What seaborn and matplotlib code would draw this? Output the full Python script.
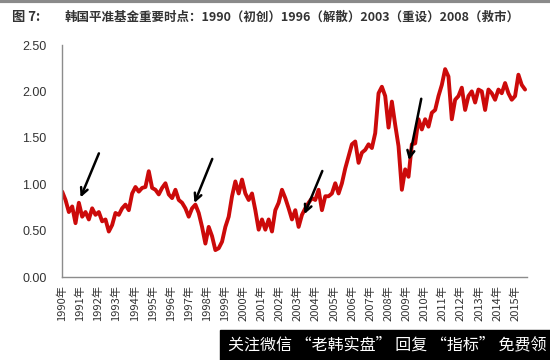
import numpy as np
import pandas as pd
import matplotlib.pyplot as plt
from matplotlib.lines import Line2D
from matplotlib.patches import Rectangle
import seaborn as sns

# index level, roughly every two months, Jan 1990 -> Jul 2015
values = [
    0.92, 0.83, 0.70, 0.76, 0.58, 0.80, 0.65, 0.70, 0.62, 0.74, 0.67, 0.70,
    0.60, 0.62, 0.49, 0.56, 0.69, 0.67, 0.74, 0.78, 0.72, 0.90, 0.97, 0.92,
    0.96, 0.97, 1.14, 0.96, 0.94, 0.89, 0.96, 1.01, 0.89, 0.85, 0.94, 0.83,
    0.80, 0.74, 0.65, 0.74, 0.78, 0.69, 0.54, 0.36, 0.54, 0.44, 0.29, 0.31,
    0.38, 0.54, 0.65, 0.87, 1.03, 0.90, 1.05, 0.90, 0.83, 0.90, 0.72, 0.51,
    0.62, 0.51,
    0.62, 0.49, 0.72, 0.80, 0.94, 0.85, 0.74, 0.62, 0.72, 0.54, 0.67, 0.74,
    0.80, 0.85, 0.83, 0.94, 0.72, 0.87, 0.87, 0.90, 1.01, 0.90, 1.01, 1.17,
    1.30, 1.43, 1.46, 1.23, 1.34, 1.37, 1.43, 1.39, 1.55, 1.98, 2.05, 1.95,
    1.61, 1.89, 1.64, 1.41, 0.94, 1.16, 1.08, 1.43, 1.44, 1.70, 1.59, 1.70,
    1.62, 1.77, 1.80, 1.95, 2.07, 2.24, 2.16, 1.70, 1.91, 1.95, 2.04, 1.80,
    1.95, 2.00, 1.88, 2.02, 2.00, 1.80, 2.02, 1.98, 1.91, 2.02, 1.98, 2.09,
    1.98, 1.91, 1.95, 2.18, 2.07, 2.02,
]
start_date = "1990-01-05"
end_date = "2015-07-20"
tick_years = list(range(1990, 2016))
y_ticks = [0.0, 0.5, 1.0, 1.5, 2.0, 2.5]

fig_label = "图 7:"
title = "韩国平准基金重要时点：1990（初创）1996（解散）2003（重设）2008（救市）"
watermark = "关注微信 “老韩实盘” 回复 “指标” 免费领"

# arrows: (tail date, tail value) -> (head date, head value)
arrows = [
    (("1992-02-05", 1.36), ("1990-12-20", 0.83)),
    (("1998-05-08", 1.30), ("1997-04-01", 0.77)),
    (("2004-06-03", 1.17), ("2003-04-27", 0.65)),
    (("2009-11-07", 1.95), ("2009-02-10", 1.23)),
]

df = pd.DataFrame({
    "date": pd.date_range(start_date, end_date, periods=len(values)),
    "value": values,
})

sns.set_style("white")
plt.rcParams["font.family"] = ["Liberation Sans", "Noto Sans CJK SC", "DejaVu Sans"]
cjk = ["Noto Sans CJK SC", "DejaVu Sans"]

fig = plt.figure(figsize=(5.5, 3.6), dpi=100)
ax = fig.add_axes([62 / 550, 83 / 360, 465 / 550, 232 / 360])

sns.lineplot(data=df, x="date", y="value", ax=ax, color="#cc0a0a", linewidth=2.8)

for (t0, v0), (t1, v1) in arrows:
    ax.annotate("", xy=(pd.Timestamp(t1), v1), xytext=(pd.Timestamp(t0), v0),
                arrowprops=dict(arrowstyle="->,head_length=0.5,head_width=0.25",
                                color="black", lw=1.8))

ax.set_xlim(pd.Timestamp("1990-01-01"), pd.Timestamp("2015-08-28"))
ax.set_ylim(0, 2.5)
ax.set_yticks(y_ticks)
ax.set_yticklabels([f"{v:.2f}" for v in y_ticks])
ax.set_xticks([pd.Timestamp(f"{y}-01-01") for y in tick_years])
ax.set_xticklabels([f"{y}年" for y in tick_years], rotation=90, family=cjk)
ax.set_xlabel("")
ax.set_ylabel("")

for s in ["top", "right"]:
    ax.spines[s].set_visible(False)
for s in ["left", "bottom"]:
    ax.spines[s].set_color("#8c8c8c")
    ax.spines[s].set_linewidth(1.0)
ax.tick_params(axis="y", direction="in", length=3, color="#8c8c8c",
               labelsize=9, pad=11, labelcolor="#333333")
ax.tick_params(axis="x", direction="in", length=3, color="#8c8c8c",
               labelsize=8, pad=6, labelcolor="#333333")
ax.grid(False)

fig.add_artist(Line2D([0, 1], [0.996, 0.996], color="#8a8a8a", lw=3))
fig.text(0.022, 0.953, fig_label, family=cjk, fontweight="bold",
         fontsize=9.5, color="#333333", va="center")
fig.text(0.118, 0.953, title, family=cjk, fontweight="bold",
         fontsize=9, color="#333333", va="center")

fig.add_artist(Rectangle((220 / 550, 0), 330 / 550, 30 / 360,
                         transform=fig.transFigure, color="black"))
fig.text(228 / 550, 15 / 360, watermark, family=cjk, fontsize=11.5,
         color="white", va="center")

fig.savefig("out.png", dpi=100)
